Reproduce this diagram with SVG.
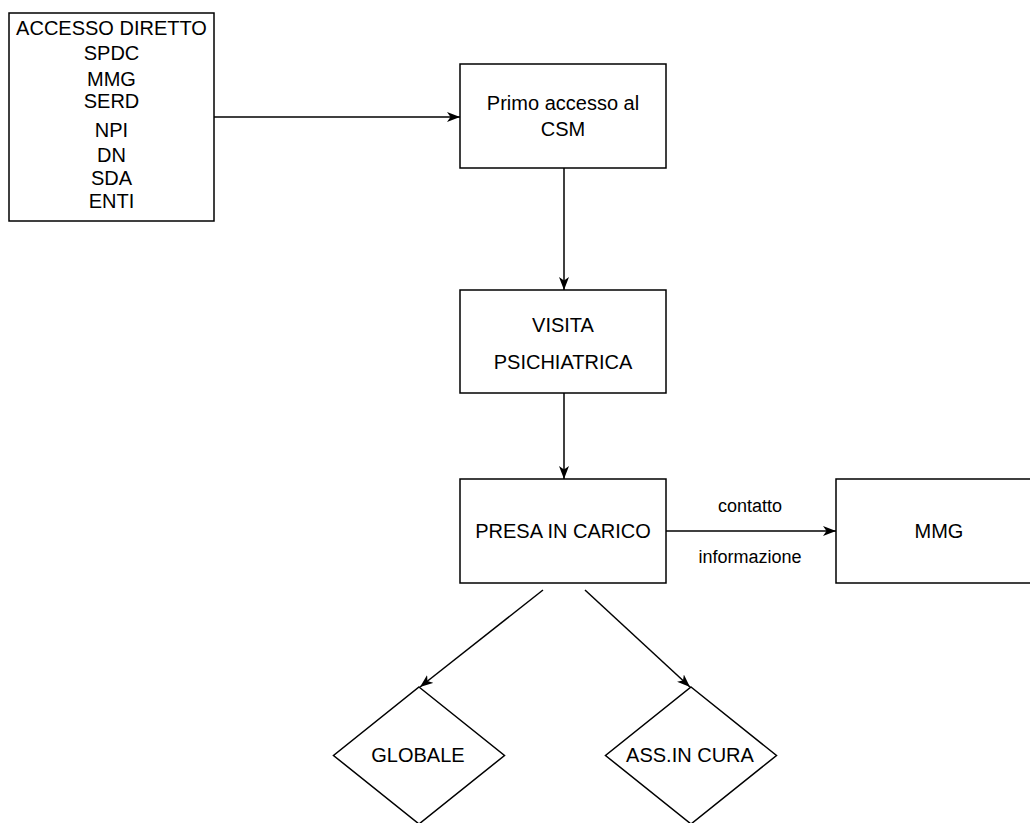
<svg xmlns="http://www.w3.org/2000/svg" width="1030" height="823" viewBox="0 0 1030 823">
<style>
.box{fill:#fff;stroke:#000;stroke-width:1.5}
.t{font-family:"Liberation Sans",Arial,sans-serif;font-size:20px;fill:#000;text-anchor:middle}
.s{font-size:18px}
.c{fill:none;stroke:#000;stroke-width:1.5}
</style>
<defs>
<marker id="arrow" viewBox="0 0 13 11" refX="13" refY="5.5" markerWidth="13" markerHeight="11" markerUnits="userSpaceOnUse" orient="auto">
<path d="M0,0.5 L13,5.5 L0,10.5 L3.5,5.5 z" fill="#000"/>
</marker>
</defs>
<rect width="1030" height="823" fill="#fff"/>
<g id="connectors">
<line class="c" x1="214" y1="117" x2="460" y2="117" marker-end="url(#arrow)"/>
<line class="c" x1="564" y1="168" x2="564" y2="290" marker-end="url(#arrow)"/>
<line class="c" x1="564" y1="393" x2="564" y2="479" marker-end="url(#arrow)"/>
<line class="c" x1="666" y1="531" x2="836" y2="531" marker-end="url(#arrow)"/>
<text class="t s" x="750" y="512">contatto</text>
<text class="t s" x="750" y="563">informazione</text>
<line class="c" x1="543" y1="590" x2="420" y2="687" marker-end="url(#arrow)"/>
<line class="c" x1="585" y1="590" x2="690" y2="687" marker-end="url(#arrow)"/>
</g>
<g id="sources">
<rect class="box" x="9" y="13" width="205" height="208"/>
<text class="t" x="111.5" y="34.5">ACCESSO DIRETTO</text>
<text class="t" x="111.5" y="60">SPDC</text>
<text class="t" x="111.5" y="85.5">MMG</text>
<text class="t" x="111.5" y="108">SERD</text>
<text class="t" x="111.5" y="136.5">NPI</text>
<text class="t" x="111.5" y="161.5">DN</text>
<text class="t" x="111.5" y="185">SDA</text>
<text class="t" x="111.5" y="208">ENTI</text>
</g>
<g id="primo-accesso">
<rect class="box" x="460" y="64" width="206" height="104"/>
<text class="t" x="563" y="110">Primo accesso al</text>
<text class="t" x="563" y="136">CSM</text>
</g>
<g id="visita">
<rect class="box" x="460" y="290" width="206" height="103"/>
<text class="t" x="563" y="332">VISITA</text>
<text class="t" x="563" y="369">PSICHIATRICA</text>
</g>
<g id="presa-in-carico">
<rect class="box" x="460" y="479" width="206" height="104"/>
<text class="t" x="563" y="538">PRESA IN CARICO</text>
</g>
<g id="mmg">
<rect class="box" x="836" y="479" width="206" height="104"/>
<text class="t" x="939" y="538">MMG</text>
</g>
<g id="globale">
<polygon class="box" points="419,687 504.5,755.5 419,824 333.5,755.5"/>
<text class="t" x="418" y="762">GLOBALE</text>
</g>
<g id="ass-in-cura">
<polygon class="box" points="691,687 776.5,755.5 691,824 605.5,755.5"/>
<text class="t" x="690" y="762">ASS.IN CURA</text>
</g>
</svg>
